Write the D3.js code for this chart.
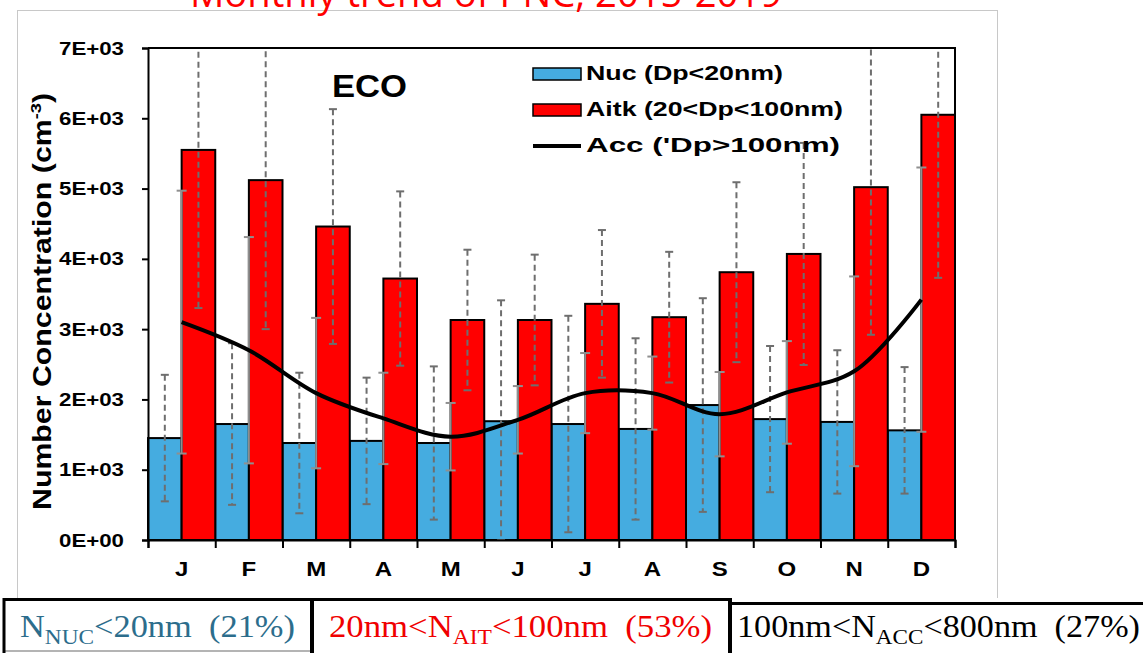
<!DOCTYPE html>
<html>
<head>
<meta charset="utf-8">
<script src="https://cdn.jsdelivr.net/npm/d3@7"></script>
<style>
  body { margin: 0; background: #fff; }
  svg { display: block; }
  text { white-space: pre; }
</style>
</head>
<body>
<svg width="1143" height="653"></svg>
<script>
// month labels and values (particles per cm3)
const months = ["J", "F", "M", "A", "M", "J", "J", "A", "S", "O", "N", "D"];
const nuc = [1450, 1650, 1380, 1410, 1380, 1690, 1650, 1580, 1920, 1720, 1680, 1560];
const nucSd = [900, 1150, 1000, 900, 1090, 1720, 1540, 1290, 1520, 1040, 1020, 900];
const aitk = [5550, 5120, 4460, 3720, 3130, 3130, 3360, 3170, 3810, 4070, 5020, 6050];
const aitkSd = [2250, 2120, 1670, 1240, 1000, 930, 1050, 930, 1280, 1580, 2100, 2320];
const acc = [3100, 2700, 2090, 1730, 1470, 1710, 2090, 2090, 1790, 2100, 2400, 3420];
const accSd = [1870, 1610, 1070, 650, 480, 480, 570, 520, 600, 730, 1350, 1880];

const yTicks = [0, 1000, 2000, 3000, 4000, 5000, 6000, 7000];
const yTickLabels = ["0E+00", "1E+03", "2E+03", "3E+03", "4E+03", "5E+03", "6E+03", "7E+03"];

const svg = d3.select("svg");

// plot area
const plotLeft = 148, plotRight = 955, plotTop = 48, plotBottom = 540;

const x = d3.scaleBand().domain(d3.range(months.length)).range([plotLeft, plotRight]).padding(0);
const xEdge = d3.scaleLinear().domain([0, months.length]).range([plotLeft, plotRight]);
const y = d3.scaleLinear().domain([0, 7000]).range([plotBottom, plotTop]);

const blue = "#45ace0";
const red = "#ff0000";
const sans = "'Liberation Sans', Arial, sans-serif";

// the source picture is stretched sideways, so widen text to match
function widen(sel, k) {
    sel.each(function () {
        const w = this.getComputedTextLength();
        d3.select(this).attr("textLength", w * k).attr("lengthAdjust", "spacingAndGlyphs");
    });
}

// light grey frame round the chart
svg.append("rect")
    .attr("x", 17.5).attr("y", 10.5)
    .attr("width", 980).attr("height", 600)
    .attr("fill", "none")
    .attr("stroke", "#c8c8c8");

// title, cut off at the top as in the source
svg.append("text")
    .attr("x", 190).attr("y", 7)
    .attr("textLength", 592).attr("lengthAdjust", "spacingAndGlyphs")
    .style("font-family", "'Open Sans', sans-serif")
    .style("font-size", "38px")
    .style("fill", red)
    .text("Monthly trend of PNC, 2015-2019");

svg.append("defs").append("clipPath").attr("id", "plotClip")
    .append("rect")
    .attr("x", plotLeft).attr("y", plotTop)
    .attr("width", plotRight - plotLeft).attr("height", plotBottom - plotTop);

const plot = svg.append("g");

// bars
plot.selectAll(".nuc")
    .data(nuc)
    .join("rect")
    .attr("class", "nuc")
    .attr("x", (d, i) => x(i))
    .attr("y", d => y(d))
    .attr("width", x.bandwidth() / 2)
    .attr("height", d => y(0) - y(d))
    .attr("fill", blue)
    .attr("stroke", "#000")
    .attr("stroke-width", 2);

plot.selectAll(".aitk")
    .data(aitk)
    .join("rect")
    .attr("class", "aitk")
    .attr("x", (d, i) => x(i) + x.bandwidth() / 2)
    .attr("y", d => y(d))
    .attr("width", x.bandwidth() / 2)
    .attr("height", d => y(0) - y(d))
    .attr("fill", red)
    .attr("stroke", "#000")
    .attr("stroke-width", 2);

// error bars
const errs = plot.append("g").attr("clip-path", "url(#plotClip)");

function errorBars(values, sds, offset, color, dash, capW) {
    const g = errs.append("g")
        .attr("stroke", color)
        .attr("stroke-width", 2)
        .attr("fill", "none");
    values.forEach((v, i) => {
        const cx = x(i) + x.bandwidth() * offset;
        const hi = y(v + sds[i]);
        const lo = y(Math.max(0, v - sds[i]));
        g.append("line")
            .attr("x1", cx).attr("x2", cx)
            .attr("y1", hi).attr("y2", lo)
            .attr("stroke-dasharray", dash);
        [hi, lo].forEach(yy => {
            g.append("line")
                .attr("x1", cx - capW / 2).attr("x2", cx + capW / 2)
                .attr("y1", yy).attr("y2", yy);
        });
    });
}

errorBars(nuc, nucSd, 0.25, "#6e6e6e", "6,4", 8);
errorBars(aitk, aitkSd, 0.75, "#6e6e6e", "6,4", 8);
errorBars(acc, accSd, 0.5, "#8f8f8f", null, 10);

// accumulation mode line
const line = d3.line()
    .x((d, i) => x(i) + x.bandwidth() / 2)
    .y(d => y(d))
    .curve(d3.curveCatmullRom.alpha(0.5));

plot.append("path")
    .datum(acc)
    .attr("d", line)
    .attr("fill", "none")
    .attr("stroke", "#000")
    .attr("stroke-width", 4);

// plot border (top and right)
svg.append("path")
    .attr("d", `M${plotLeft},${plotTop}H${plotRight}V${plotBottom}`)
    .attr("fill", "none")
    .attr("stroke", "#000")
    .attr("stroke-width", 2);

// y axis
const yAxis = svg.append("g")
    .attr("transform", `translate(${plotLeft},0)`)
    .call(d3.axisLeft(y).tickValues(yTicks).tickSize(6).tickPadding(18)
        .tickFormat((d, i) => yTickLabels[i]));
yAxis.attr("font-size", 19).attr("font-family", sans).attr("font-weight", "bold");
yAxis.select(".domain").attr("stroke-width", 2);
yAxis.selectAll(".tick line").attr("stroke-width", 2);
yAxis.selectAll("text")
    .attr("textLength", 65).attr("lengthAdjust", "spacingAndGlyphs")
    .attr("fill", "#000");

// x axis: ticks at month edges, labels at month centres
const xTicks = svg.append("g")
    .attr("transform", `translate(0,${plotBottom})`)
    .call(d3.axisBottom(xEdge).tickValues(d3.range(months.length + 1)).tickSize(8).tickFormat(""));
xTicks.select(".domain").attr("stroke-width", 2);
xTicks.selectAll(".tick line").attr("stroke-width", 2);

const xLabels = svg.append("g")
    .attr("transform", `translate(0,${plotBottom})`)
    .call(d3.axisBottom(x).tickSize(0).tickPadding(22).tickFormat(i => months[i]));
xLabels.attr("font-size", 20).attr("font-family", sans).attr("font-weight", "bold");
xLabels.select(".domain").remove();
xLabels.selectAll("text").attr("fill", "#000");
widen(xLabels.selectAll("text"), 1.2);

// y axis title
const yTitle = svg.append("text")
    .attr("transform", "translate(51,510) rotate(-90)")
    .attr("textLength", 417).attr("lengthAdjust", "spacingAndGlyphs")
    .attr("font-family", sans)
    .attr("font-size", 25)
    .attr("font-weight", "bold");
yTitle.append("tspan").text("Number Concentration (cm");
yTitle.append("tspan").attr("dy", -10).attr("font-size", 15).text("-3");
yTitle.append("tspan").attr("dy", 10).text(")");

// site label
svg.append("text")
    .attr("x", 332).attr("y", 97)
    .attr("textLength", 75).attr("lengthAdjust", "spacingAndGlyphs")
    .attr("font-family", sans)
    .attr("font-size", 32)
    .attr("font-weight", "bold")
    .text("ECO");

// legend
const legendData = [
    { type: "rect", color: blue, label: "Nuc (Dp<20nm)", len: 197 },
    { type: "rect", color: red, label: "Aitk (20<Dp<100nm)", len: 257 },
    { type: "line", color: "#000", label: "Acc ('Dp>100nm)", len: 254 }
];

const legend = svg.append("g")
    .selectAll(".legend-entry")
    .data(legendData)
    .join("g")
    .attr("class", "legend-entry")
    .attr("transform", (d, i) => `translate(533, ${80 + i * 36})`);

legend.filter(d => d.type === "rect").append("rect")
    .attr("x", 0).attr("y", -12)
    .attr("width", 48).attr("height", 12)
    .attr("fill", d => d.color)
    .attr("stroke", "#000")
    .attr("stroke-width", 1.5);

legend.filter(d => d.type === "line").append("line")
    .attr("x1", 0).attr("x2", 48)
    .attr("y1", -6).attr("y2", -6)
    .attr("stroke", d => d.color)
    .attr("stroke-width", 4);

legend.append("text")
    .attr("x", 53).attr("y", 0)
    .attr("textLength", d => d.len).attr("lengthAdjust", "spacingAndGlyphs")
    .attr("font-family", sans)
    .attr("font-size", 21)
    .attr("font-weight", "bold")
    .text(d => d.label);

// mode boxes under the chart
const boxes = svg.append("g");
boxes.append("rect").attr("x", 0).attr("y", 598).attr("width", 1143).attr("height", 60).attr("fill", "#fff");
boxes.append("line").attr("x1", 3).attr("x2", 312).attr("y1", 651).attr("y2", 651).attr("stroke", "#b4b4b4").attr("stroke-width", 2);
boxes.append("path").attr("d", "M4,653V599.5H730").attr("fill", "none").attr("stroke", "#000").attr("stroke-width", 3);
boxes.append("path").attr("d", "M730,603.5H1143").attr("fill", "none").attr("stroke", "#000").attr("stroke-width", 3);
boxes.append("line").attr("x1", 312).attr("x2", 312).attr("y1", 598).attr("y2", 653).attr("stroke", "#000").attr("stroke-width", 4);
boxes.append("line").attr("x1", 730).attr("x2", 730).attr("y1", 598).attr("y2", 653).attr("stroke", "#000").attr("stroke-width", 4);

const modeBoxes = [
    { pre: "N", sub: "NUC", post: "<20nm  (21%)", color: "#2c6d8c", x: 20, len: 275 },
    { pre: "20nm<N", sub: "AIT", post: "<100nm  (53%)", color: "#f00000", x: 329, len: 383 },
    { pre: "100nm<N", sub: "ACC", post: "<800nm  (27%)", color: "#000", x: 737, len: 403 }
];

modeBoxes.forEach(b => {
    const t = boxes.append("text")
        .attr("x", b.x).attr("y", 637)
        .attr("textLength", b.len).attr("lengthAdjust", "spacingAndGlyphs")
        .attr("font-family", "'Liberation Serif', 'Times New Roman', serif")
        .attr("font-size", 31)
        .attr("fill", b.color);
    t.append("tspan").text(b.pre);
    t.append("tspan").attr("dy", 7).attr("font-size", 21).text(b.sub);
    t.append("tspan").attr("dy", -7).text(b.post);
});
</script>
</body>
</html>
